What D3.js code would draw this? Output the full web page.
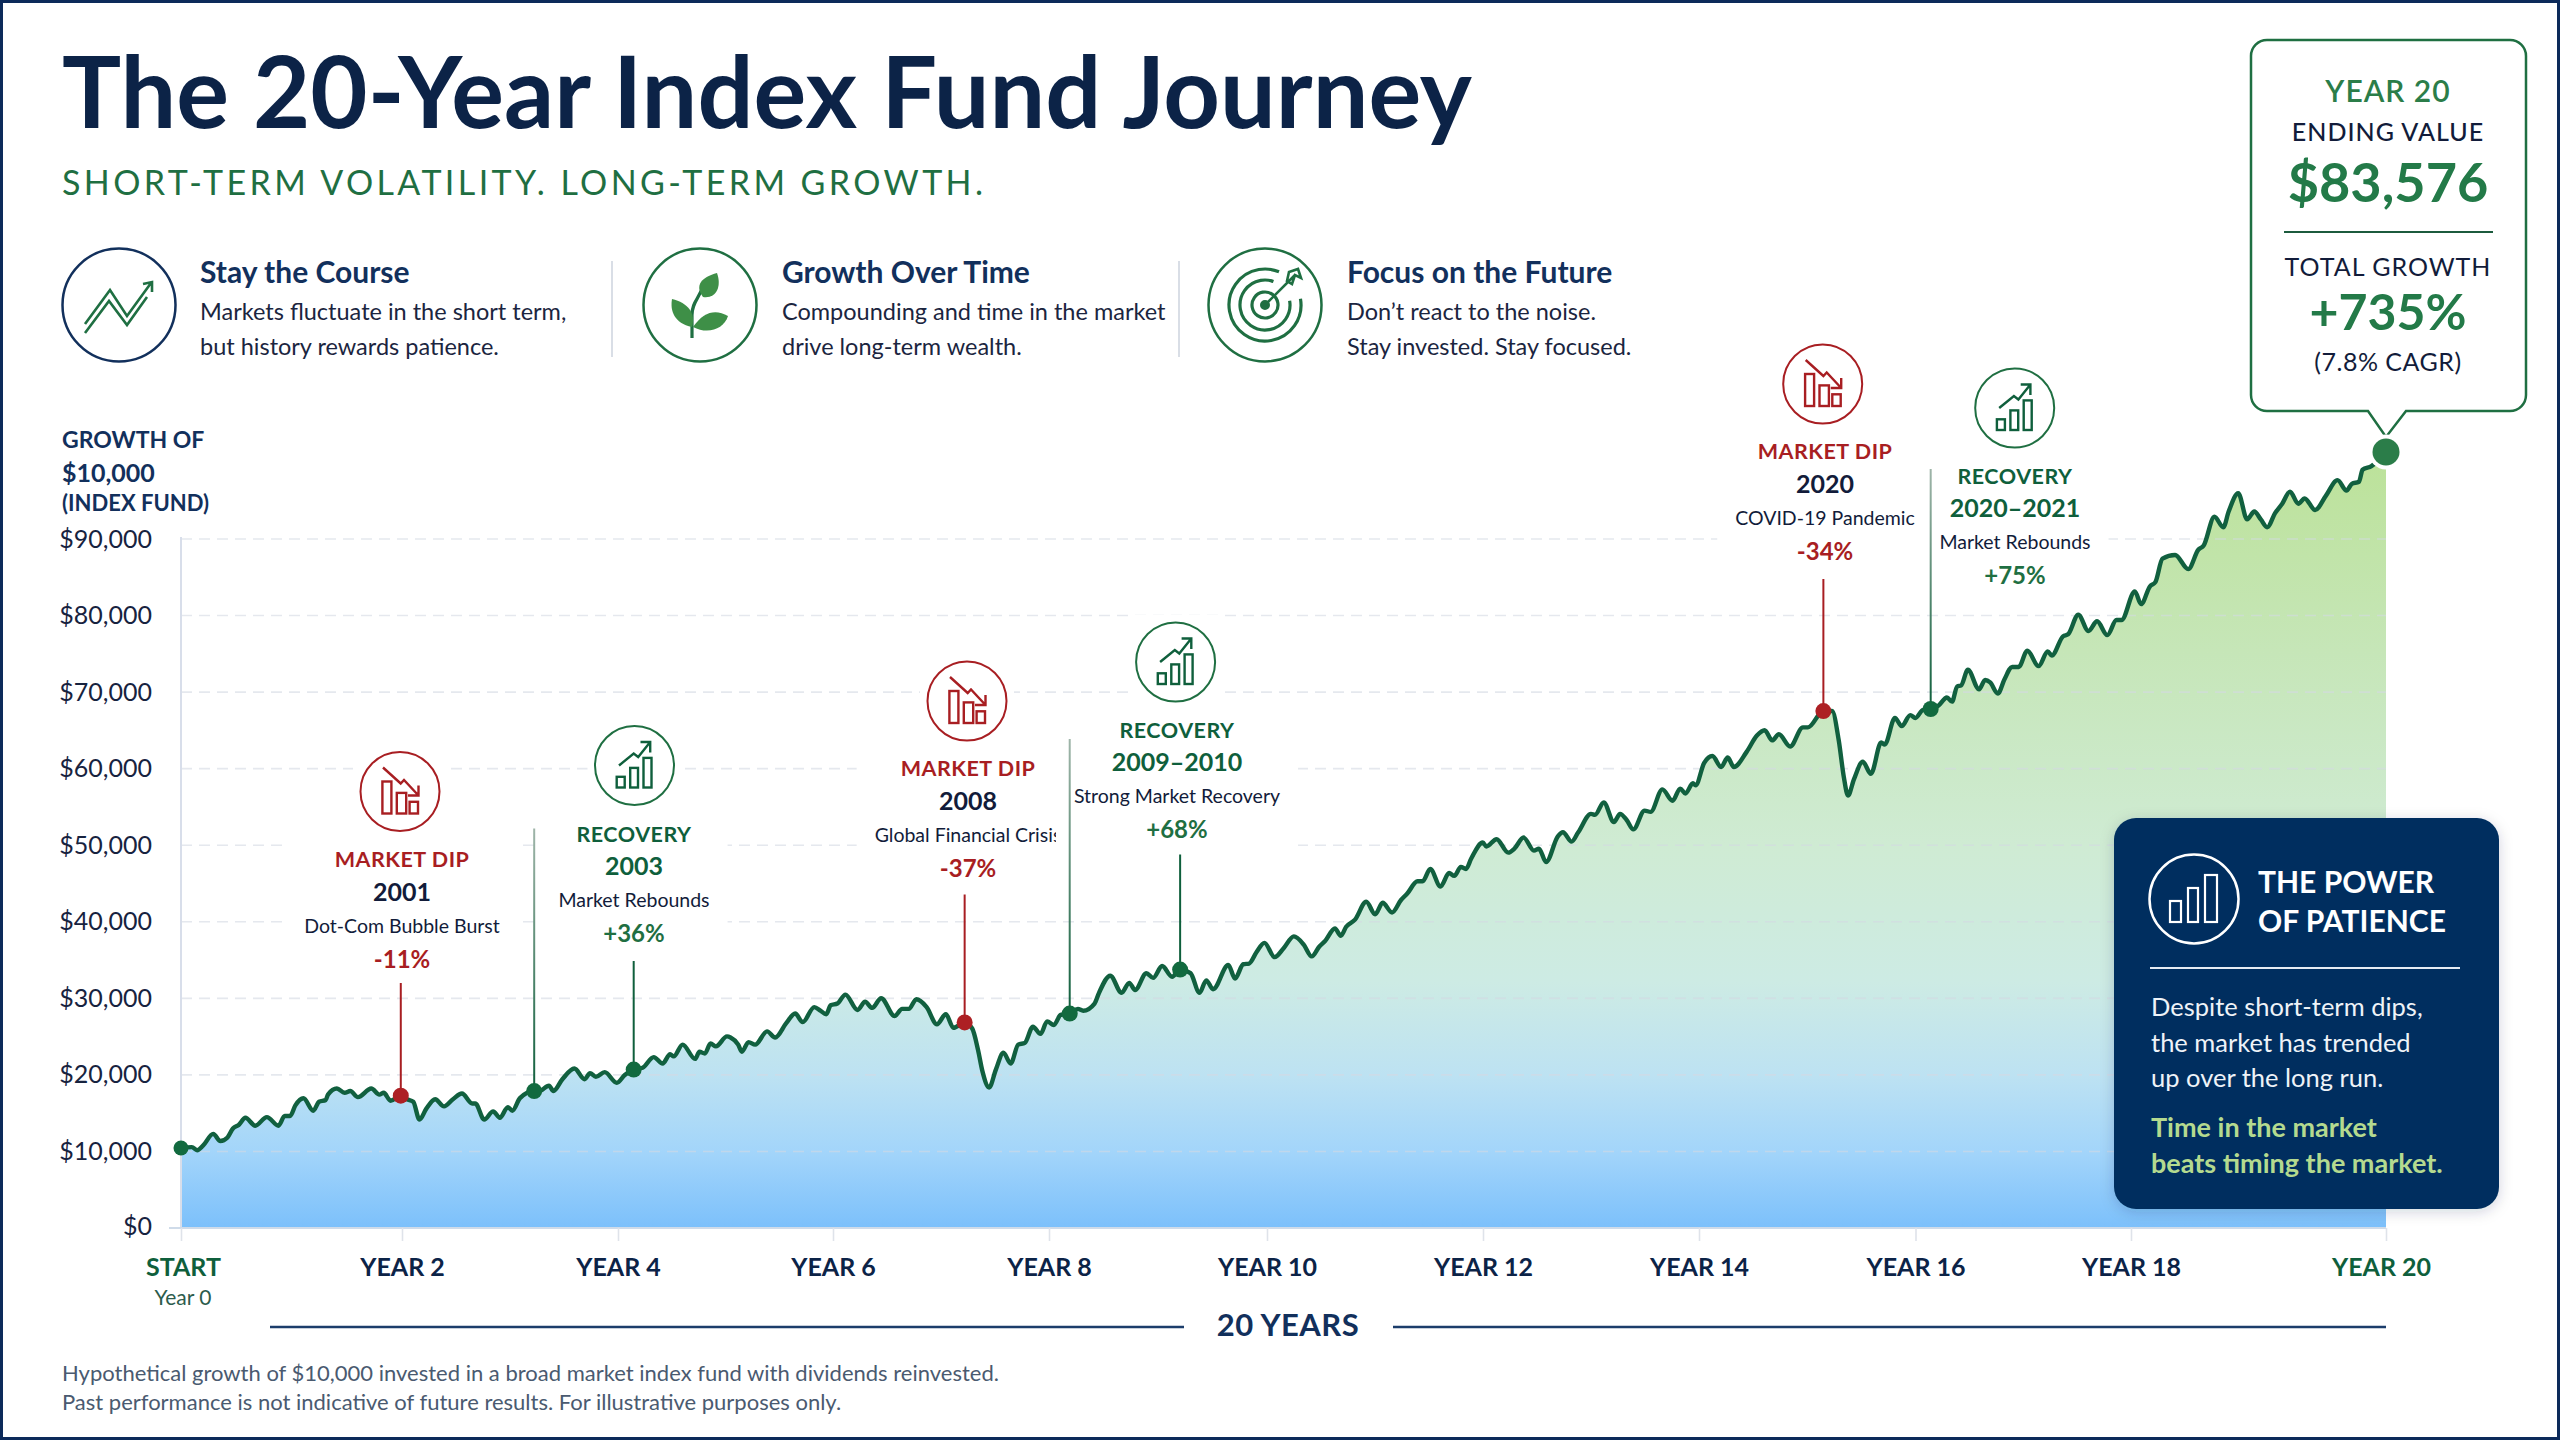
<!DOCTYPE html>
<html lang="en">
<head>
<meta charset="utf-8">
<title>The 20-Year Index Fund Journey</title>
<script src="https://cdn.jsdelivr.net/npm/d3@7/dist/d3.min.js"></script>
<style>
  html, body { margin: 0; padding: 0; background: #fff; }
  svg { display: block; }
  text { font-family: Lato, "Open Sans", sans-serif; }
</style>
</head>
<body>
<svg id="chart" width="2560" height="1440" viewBox="0 0 2560 1440"></svg>
<script>
// ---- Chart data ----------------------------------------------------------
const yearsElapsed = [0,.098,.146,.199,.292,.356,.421,.47,.522,.583,.672,.777,.882,.938,.987,1.035,1.108,1.197,1.249,1.31,1.33,1.411,1.48,1.532,1.601,1.722,1.795,1.835,1.896,1.989,2.046,2.104,2.162,2.224,2.307,2.389,2.472,2.555,2.65,2.679,2.761,2.844,2.906,2.98,3.022,3.092,3.224,3.27,3.361,3.402,3.485,3.596,3.691,3.741,3.795,3.877,3.989,4.063,4.146,4.229,4.332,4.415,4.485,4.518,4.601,4.717,4.758,4.808,4.861,4.911,5.014,5.047,5.118,5.152,5.214,5.276,5.387,5.462,5.565,5.648,5.718,5.826,5.883,5.937,5.978,6.041,6.115,6.227,6.297,6.363,6.446,6.57,6.64,6.702,6.772,6.867,6.962,7.045,7.115,7.219,7.289,7.343,7.384,7.446,7.508,7.578,7.645,7.715,7.777,7.851,7.921,7.983,8.045,8.107,8.19,8.265,8.314,8.418,8.459,8.562,8.666,8.736,8.79,8.893,8.955,9.038,9.129,9.203,9.298,9.381,9.443,9.505,9.645,9.707,9.782,9.836,9.906,9.976,10.071,10.154,10.249,10.34,10.414,10.485,10.538,10.629,10.683,10.733,10.815,10.919,11.001,11.071,11.158,11.241,11.299,11.394,11.441,11.512,11.606,11.686,11.734,11.795,11.842,11.89,11.998,12.031,12.126,12.234,12.291,12.376,12.471,12.518,12.584,12.693,12.74,12.82,12.882,13,13.037,13.118,13.212,13.269,13.33,13.392,13.496,13.552,13.661,13.755,13.826,13.874,13.944,13.968,14.048,14.124,14.204,14.266,14.322,14.44,14.535,14.606,14.676,14.738,14.842,14.96,15.007,15.149,15.229,15.291,15.338,15.376,15.432,15.513,15.588,15.683,15.716,15.81,15.872,15.952,15.999,16.07,16.141,16.212,16.292,16.339,16.386,16.424,16.486,16.59,16.646,16.693,16.764,16.826,16.897,16.958,17.038,17.142,17.227,17.265,17.369,17.416,17.511,17.605,17.685,17.78,17.865,17.912,18.03,18.079,18.149,18.191,18.247,18.346,18.449,18.528,18.57,18.654,18.724,18.766,18.841,18.911,18.967,19.018,19.068,19.13,19.186,19.247,19.312,19.362,19.444,19.528,19.62,19.69,19.732,19.788,19.816,19.886,20];
const fundValues = [10000,10095,9718,10246,11492,10737,11114,12058,12436,13191,12360,13266,12360,13380,13380,14512,15267,13945,14889,15078,15644,16286,15833,16022,15380,16286,15644,15833,15002,15531,15153,14889,13002,14134,15153,14399,15153,15758,14700,14700,13002,13870,13191,14323,13945,15267,16022,16022,16588,16022,17267,18400,17267,17909,17531,18022,16890,17720,18287,18475,19608,18929,19910,19684,20929,19419,20175,19986,21042,20740,21797,21684,20929,20175,21195,20930,22327,21685,23195,24215,23309,24894,24517,24139,25083,25272,26215,24592,25461,24819,25838,23950,24705,24705,25725,24894,23082,24139,22705,23271,22629,20364,18099,16400,18288,20062,18930,20930,21119,22818,22062,23384,23007,24063,24214,24705,24516,25272,26404,28216,26404,27461,26706,28480,27989,29235,28103,28857,28480,26404,27725,26782,29349,27914,29424,29500,30745,31689,30179,31122,32368,31500,30255,31311,31878,33199,32444,33387,34142,36029,34709,35921,34898,36219,36906,38201,38201,39495,37640,39064,38762,39711,39495,40574,42300,41868,42645,41221,41652,42817,41437,41652,40229,42947,43379,42386,43379,45320,45234,46528,44457,45320,44673,43680,45665,45536,47909,46701,47995,47477,48555,48340,50713,51446,50281,51274,50281,51878,53602,54165,53086,53733,52439,54467,54467,56193,56193,53086,49203,47262,48988,50843,49549,52871,52655,55460,54597,55762,55460,56323,56410,56754,57617,57186,58782,58912,60551,58480,59472,59214,58049,59559,60853,60853,62579,60939,62492,62061,64089,64305,66376,64650,65685,64219,65815,65815,68835,67495,69375,69817,72305,72692,71199,73245,73687,76728,75622,77281,79216,76452,77281,76452,75622,77115,78111,79382,78111,78664,77447,78940,80599,79493,80212,80433,81704,82091,83576];

const axisDollars = [0,10000,20000,30000,40000,50000,60000,70000,80000,90000];
const axisYears = [0,2,4,6,8,10,12,14,16,18,20];
const axisYearLabels = ["START","YEAR 2","YEAR 4","YEAR 6","YEAR 8","YEAR 10","YEAR 12","YEAR 14","YEAR 16","YEAR 18","YEAR 20"];

const markerYears = [1.989,3.224,4.146,7.219,8.19,9.203,15.149,16.141];
const markerKinds = ["dip","recovery","recovery","dip","recovery","recovery","dip","recovery"];

const eventKinds = ["dip","recovery","dip","recovery","dip","recovery"];
const eventHeads = ["MARKET DIP","RECOVERY","MARKET DIP","RECOVERY","MARKET DIP","RECOVERY"];
const eventPeriods = ["2001","2003","2008","2009–2010","2020","2020–2021"];
const eventNotes = ["Dot-Com Bubble Burst","Market Rebounds","Global Financial Crisis","Strong Market Recovery","COVID-19 Pandemic","Market Rebounds"];
const eventChanges = ["-11%","+36%","-37%","+68%","-34%","+75%"];

const startValue = 10000;
const endValue = 83576;
const pillars = [
  ["Stay the Course","Markets fluctuate in the short term,","but history rewards patience."],
  ["Growth Over Time","Compounding and time in the market","drive long-term wealth."],
  ["Focus on the Future","Don’t react to the noise.","Stay invested. Stay focused."]
];

// ---- Palette -------------------------------------------------------------
const NAVY = "#0c2347", BLUE = "#12305c", GREEN = "#1f6f42", DARK = "#0f5f3c", RED = "#a81e22", INK = "#121c3a";

// ---- Scales --------------------------------------------------------------
const x = d3.scaleLinear().domain(axisYears).range([181,402,618,833,1049,1267,1483,1699,1915.5,2131,2386]);
// Printed dollar gridlines run on a plain linear scale.
const yTicks = d3.scaleLinear().domain([0,90000]).range([1228,539]);
// The fund line is pinned at its stated start and ending balances.
const yFund = d3.scaleLinear().domain([0,startValue,endValue]).range([1228,1148,452]);

const svg = d3.select("#chart");
const defs = svg.append("defs");

const areaFill = defs.append("linearGradient").attr("id","areaFill").attr("gradientUnits","userSpaceOnUse")
  .attr("x1",0).attr("x2",0).attr("y1",460).attr("y2",1228);
[[0,"#bce29a"],[.25,"#c6e6b8"],[.5,"#cfebd3"],[.68,"#cdebe4"],[.8,"#bde2f2"],[.9,"#a3d5fa"],[1,"#7cc0fb"]]
  .forEach(([o,c]) => areaFill.append("stop").attr("offset",o).attr("stop-color",c));

const shadow = defs.append("filter").attr("id","softShadow").attr("x","-10%").attr("y","-10%").attr("width","120%").attr("height","125%");
shadow.append("feDropShadow").attr("dx",0).attr("dy",3).attr("stdDeviation",7).attr("flood-color","#0c2347").attr("flood-opacity",.18);

const put = (parent, px, py, str, o = {}) => parent.append("text")
  .attr("x",px).attr("y",py).text(str)
  .attr("font-size",o.size || 24).attr("font-weight",o.weight || 400)
  .attr("fill",o.fill || INK).attr("text-anchor",o.anchor || "start")
  .attr("letter-spacing",o.ls || 0)
  .attr("font-family",o.family || null);

// ---- Frame ---------------------------------------------------------------
svg.append("rect").attr("width",2560).attr("height",1440).attr("fill","#fff");
svg.append("rect").attr("x",1.5).attr("y",1.5).attr("width",2557).attr("height",1437)
  .attr("fill","none").attr("stroke","#0c2a5a").attr("stroke-width",3);

// ---- Heading -------------------------------------------------------------
put(svg,62,128,"The 20-Year Index Fund Journey",{size:100,weight:700,fill:NAVY,family:'"Liberation Serif",serif'}).attr("textLength",1410).attr("lengthAdjust","spacingAndGlyphs");
put(svg,62,195,"SHORT-TERM VOLATILITY. LONG-TERM GROWTH.",{size:34,weight:400,fill:GREEN,ls:3.4});

// ---- Pillars -------------------------------------------------------------
const pillarCx = [119,700,1265], pillarTextX = [200,782,1347], pillarStroke = [BLUE,GREEN,GREEN];
pillars.forEach((p,i) => {
  svg.append("circle").attr("cx",pillarCx[i]).attr("cy",305).attr("r",56.5).attr("fill","#fff")
    .attr("stroke",pillarStroke[i]).attr("stroke-width",2.5);
  put(svg,pillarTextX[i],283,p[0],{size:30,weight:700,fill:BLUE});
  put(svg,pillarTextX[i],320,p[1],{size:23.5,fill:"#1b2540"});
  put(svg,pillarTextX[i],355,p[2],{size:23.5,fill:"#1b2540"});
});
[612,1179].forEach(sx => svg.append("line").attr("x1",sx).attr("x2",sx).attr("y1",261).attr("y2",357)
  .attr("stroke","#ccd3de").attr("stroke-width",1.5));

// Pillar glyphs: fluctuating trend, sprig, target
const trendGlyph = svg.append("g").attr("transform","translate(119,305)").attr("fill","none").attr("stroke",GREEN)
  .attr("stroke-width",2.6).attr("stroke-linejoin","miter");
trendGlyph.append("path").attr("d","M-34,19 L-9,-15 L8,11 L32,-22 M24,-21 L33,-23 L33,-13");
trendGlyph.append("path").attr("d","M-34,28 L-10,-4 L8,20 L28,-8");
const sprig = svg.append("g").attr("transform","translate(700,305)");
sprig.append("path").attr("d","M-8,33 L-8,10 C-8,-4 0,-6 4,-22").attr("fill","none").attr("stroke",GREEN).attr("stroke-width",3.2);
[["M3,-8 C-6,-20 2,-28 17,-32 C22,-18 16,-6 3,-8","#3e8f47"],
 ["M-8,22 C-26,18 -30,6 -28,-6 C-12,-2 -4,8 -8,22","#3e8f47"],
 ["M-7,22 C4,6 16,4 28,11 C24,24 8,30 -7,22","#3e8f47"]]
 .forEach(([d,c]) => sprig.append("path").attr("d",d).attr("fill",c));
const target = svg.append("g").attr("transform","translate(1265,305)").attr("fill","none").attr("stroke",GREEN).attr("stroke-width",3.2);
[36,25,13].forEach(r => target.append("circle").attr("r",r).attr("stroke-dasharray",r === 36 ? "190 36" : r === 25 ? "130 27" : null).attr("transform","rotate(-10)"));
target.append("circle").attr("r",3.4).attr("fill",GREEN);
target.append("path").attr("d","M0,0 L30,-30 M22,-24 L24,-33 L33,-36 L36,-27 L30,-30 L27,-21 Z").attr("stroke-width",2.6);

// ---- Grid and axes -------------------------------------------------------
const gridLayer = svg.append("g");
svg.select("g");
const areaGen = d3.area().x((d,i) => x(yearsElapsed[i])).y0(x.range ? yFund(0) : 0).y1((d) => yFund(d)).curve(d3.curveMonotoneX);
gridLayer.append("path").datum(fundValues).attr("d",areaGen).attr("fill","url(#areaFill)");

axisDollars.filter(d => d > 0).forEach(d => gridLayer.append("line")
  .attr("x1",x(0)).attr("x2",x(20)).attr("y1",yTicks(d)).attr("y2",yTicks(d))
  .attr("stroke","#d3d9e3").attr("stroke-opacity",.6).attr("stroke-width",1.6).attr("stroke-dasharray","11 7"));

svg.append("line").attr("x1",x(0)).attr("x2",x(0)).attr("y1",537).attr("y2",yTicks(0))
  .attr("stroke","#d8deea").attr("stroke-width",2);

const yAxis = svg.append("g").attr("transform",`translate(${x(0)},0)`)
  .call(d3.axisLeft(yTicks).tickValues(axisDollars).tickFormat(d3.format("$,")).tickSize(0).tickPadding(29));
yAxis.select(".domain").remove();
yAxis.selectAll("text").attr("font-size",25).attr("fill","#17233f").attr("font-family","Lato").attr("dy",null).attr("dominant-baseline",null)
  .attr("transform",d => `translate(0,${d === 0 ? 6 : 8})`);

const xAxis = svg.append("g").attr("transform",`translate(0,${yTicks(0)})`)
  .call(d3.axisBottom(x).tickValues(axisYears).tickFormat((d,i) => axisYearLabels[i]).tickSize(13).tickPadding(0));
xAxis.select(".domain").attr("d",`M169,0H${x(20)}`).attr("stroke","#cfdbe9").attr("stroke-width",2);
xAxis.selectAll(".tick line").attr("stroke","#dfe3ea").attr("stroke-width",1.6);
xAxis.selectAll(".tick text").attr("font-size",25).attr("font-weight",700).attr("font-family","Lato")
  .attr("y",48).attr("dy",null).attr("fill",d => (d === 0 || d === 20) ? DARK : NAVY)
  .attr("transform",d => d === 0 ? "translate(2,0)" : d === 20 ? "translate(-5,0)" : null);
put(svg,183,1305,"Year 0",{size:21,fill:"#2c5c4c",anchor:"middle"});

// ---- Twenty-year span ----------------------------------------------------
[[270,1184],[1393,x(20)]].forEach(([a,b]) => svg.append("line").attr("x1",a).attr("x2",b).attr("y1",1327).attr("y2",1327)
  .attr("stroke","#1c3d6b").attr("stroke-width",2.6));
put(svg,1288,1336,"20 YEARS",{size:31,weight:700,fill:"#12305c",anchor:"middle",ls:.5});

// ---- Footnote ------------------------------------------------------------
put(svg,62,1381,"Hypothetical growth of $10,000 invested in a broad market index fund with dividends reinvested.",{size:22,fill:"#4a5a70"});
put(svg,62,1410,"Past performance is not indicative of future results. For illustrative purposes only.",{size:22,fill:"#4a5a70"});

// ---- Axis caption --------------------------------------------------------
put(svg,62,448,"GROWTH OF",{size:23,weight:700,fill:BLUE});
put(svg,62,482,"$10,000",{size:25,weight:700,fill:BLUE});
put(svg,62,511,"(INDEX FUND)",{size:22,weight:700,fill:BLUE});

// ---- Event call-outs -----------------------------------------------------
const eventSpots = [[402,400,791.5],[634,634.5,765.5],[968,967,701],[1177,1175.6,662],[1825,1822.7,384],[2015,2014.7,408]];
const barsDown = [[-17.6,-10,9,32],[-3.2,1.4,9.4,20.6],[9.6,10.3,8.4,11.7]];
const barsUp = [[-17.8,11.3,8,10.7],[-4.3,2.4,7.8,19.6],[9,-7.6,8,29.6]];

eventKinds.forEach((kind,i) => {
  const [cx,icx,icy] = eventSpots[i];
  const dip = kind === "dip";
  const accent = dip ? RED : DARK;
  const g = svg.append("g");
  const mask = g.append("rect").attr("fill","#fff");
  const iconMask = g.append("rect").attr("fill","#fff").attr("x",icx-47).attr("y",icy-47).attr("width",94).attr("height",94);

  const blockTop = icy + 46;
  put(g,cx,icy+(dip?75:76),eventHeads[i],{size:21.5,weight:700,fill:accent,anchor:"middle",ls:.5});
  put(g,cx,icy+109,eventPeriods[i],{size:25,weight:700,fill:dip?INK:DARK,anchor:"middle"});
  const note = put(g,cx,icy+141,eventNotes[i],{size:19.5,fill:INK,anchor:"middle"});
  put(g,cx,icy+176,eventChanges[i],{size:24,weight:700,fill:dip?RED:GREEN,anchor:"middle"});
  const w = note.node().getComputedTextLength();
  mask.attr("x",cx-w/2-18).attr("width",w+36).attr("y",blockTop).attr("height",146);

  const icon = g.append("g").attr("transform",`translate(${icx},${icy})`);
  icon.append("circle").attr("r",39.5).attr("fill","#fff").attr("stroke",dip?RED:GREEN).attr("stroke-width",2);
  (dip ? barsDown : barsUp).forEach(([bx,by,bw,bh]) => icon.append("rect")
    .attr("x",bx).attr("y",by).attr("width",bw).attr("height",bh)
    .attr("fill","none").attr("stroke",accent).attr("stroke-width",2.4));
  icon.append("path").attr("fill","none").attr("stroke",accent).attr("stroke-width",2.4)
    .attr("d",dip ? "M-17,-24 L0.7,-8 L4,-11.5 L18.5,4 M8,4 L18.5,4 L18.5,-6"
                  : "M-15.5,0 L-0.8,-12 L3.7,-8.5 L15.7,-23.5 M6,-23.5 L15.7,-23.5 L15.7,-13");
});

// ---- Line and event leaders ----------------------------------------------
const leaderTops = [983,828.6,961,894.6,739,854.6,579,469];
const leaderFaded = [false,true,false,false,true,false,false,true];
const fundAt = yr => fundValues[d3.bisectLeft(yearsElapsed,yr)];

markerYears.forEach((yr,i) => {
  const c = markerKinds[i] === "dip" ? RED : DARK;
  let stroke = c;
  if (leaderFaded[i]) {
    const id = `fade${i}`;
    const gr = defs.append("linearGradient").attr("id",id).attr("gradientUnits","userSpaceOnUse")
      .attr("x1",0).attr("x2",0).attr("y1",leaderTops[i]).attr("y2",yFund(fundAt(yr)));
    gr.append("stop").attr("offset",0).attr("stop-color","#9fb5a9");
    gr.append("stop").attr("offset",1).attr("stop-color",c);
    stroke = `url(#${id})`;
  }
  svg.append("line").attr("x1",x(yr)).attr("x2",x(yr)+.01).attr("y1",leaderTops[i]).attr("y2",yFund(fundAt(yr)))
    .attr("stroke",stroke).attr("stroke-width",2);
});

const lineGen = d3.line().x((d,i) => x(yearsElapsed[i])).y(d => yFund(d)).curve(d3.curveMonotoneX);
svg.append("path").datum(fundValues).attr("d",lineGen).attr("fill","none").attr("stroke","#11603f")
  .attr("stroke-width",4.4).attr("stroke-linejoin","round").attr("stroke-linecap","round");

markerYears.forEach((yr,i) => svg.append("circle").attr("cx",x(yr)).attr("cy",yFund(fundAt(yr))).attr("r",8)
  .attr("fill",markerKinds[i] === "dip" ? "#ad2024" : "#126a3f"));
svg.append("circle").attr("cx",x(0)).attr("cy",yFund(startValue)).attr("r",7.5).attr("fill","#126a3f");

// ---- Ending balance call-out ---------------------------------------------
const ex = x(20), ey = yFund(endValue);
const bubble = d3.path();
const [bl,br,bt,bb,rad] = [2251,2526,40,411,16];
bubble.moveTo(bl+rad,bt); bubble.lineTo(br-rad,bt); bubble.arcTo(br,bt,br,bt+rad,rad);
bubble.lineTo(br,bb-rad); bubble.arcTo(br,bb,br-rad,bb,rad);
bubble.lineTo(ex+20,bb); bubble.lineTo(ex,437); bubble.lineTo(ex-18,bb);
bubble.lineTo(bl+rad,bb); bubble.arcTo(bl,bb,bl,bb-rad,rad);
bubble.lineTo(bl,bt+rad); bubble.arcTo(bl,bt,bl+rad,bt,rad); bubble.closePath();
svg.append("path").attr("d",bubble.toString()).attr("fill","#fff").attr("stroke",GREEN).attr("stroke-width",2.5);

svg.append("circle").attr("cx",ex).attr("cy",ey).attr("r",17.5).attr("fill","#fff");
svg.append("circle").attr("cx",ex).attr("cy",ey).attr("r",13.5).attr("fill","#2b7d49");

const CX = 2388;
put(svg,CX,102,"YEAR 20",{size:30,weight:600,fill:"#2b7d49",anchor:"middle",ls:1});
put(svg,CX,141,"ENDING VALUE",{size:25,weight:500,fill:INK,anchor:"middle",ls:1});
put(svg,CX,202,d3.format("$,")(endValue),{size:54,weight:700,fill:"#237a48",anchor:"middle"});
svg.append("line").attr("x1",2284).attr("x2",2493).attr("y1",232).attr("y2",232).attr("stroke","#1c5b3e").attr("stroke-width",1.8);
put(svg,CX,276,"TOTAL GROWTH",{size:25,weight:400,fill:INK,anchor:"middle",ls:1});
put(svg,CX,330,"+735%",{size:50,weight:700,fill:"#237a48",anchor:"middle"});
put(svg,CX,371,"(7.8% CAGR)",{size:25,fill:INK,anchor:"middle",ls:.5});

// ---- The power of patience panel -----------------------------------------
const panel = svg.append("g");
panel.append("rect").attr("x",2114).attr("y",818).attr("width",385).attr("height",391).attr("rx",22)
  .attr("fill","#042f5f").attr("filter","url(#softShadow)");
panel.append("circle").attr("cx",2194).attr("cy",899).attr("r",44.5).attr("fill","none").attr("stroke","#fff").attr("stroke-width",2.5);
[[2170,901,11,21],[2188,888,10,34],[2205,875,12,47]].forEach(([a,b,w,h]) => panel.append("rect")
  .attr("x",a).attr("y",b).attr("width",w).attr("height",h).attr("fill","none").attr("stroke","#fff").attr("stroke-width",2.2));
put(panel,2258,893,"THE POWER",{size:30,weight:700,fill:"#fff"});
put(panel,2258,932,"OF PATIENCE",{size:30,weight:700,fill:"#fff"});
panel.append("line").attr("x1",2150).attr("x2",2460).attr("y1",968).attr("y2",968).attr("stroke","#e4eaf2").attr("stroke-width",2);
["Despite short-term dips,","the market has trended","up over the long run."].forEach((s,i) =>
  put(panel,2151,[1016,1052,1087][i],s,{size:25.5,fill:"#eef3f8"}));
["Time in the market","beats timing the market."].forEach((s,i) =>
  put(panel,2151,[1137,1173][i],s,{size:27,weight:700,fill:"#b4da8f"}));
</script>
</body>
</html>
